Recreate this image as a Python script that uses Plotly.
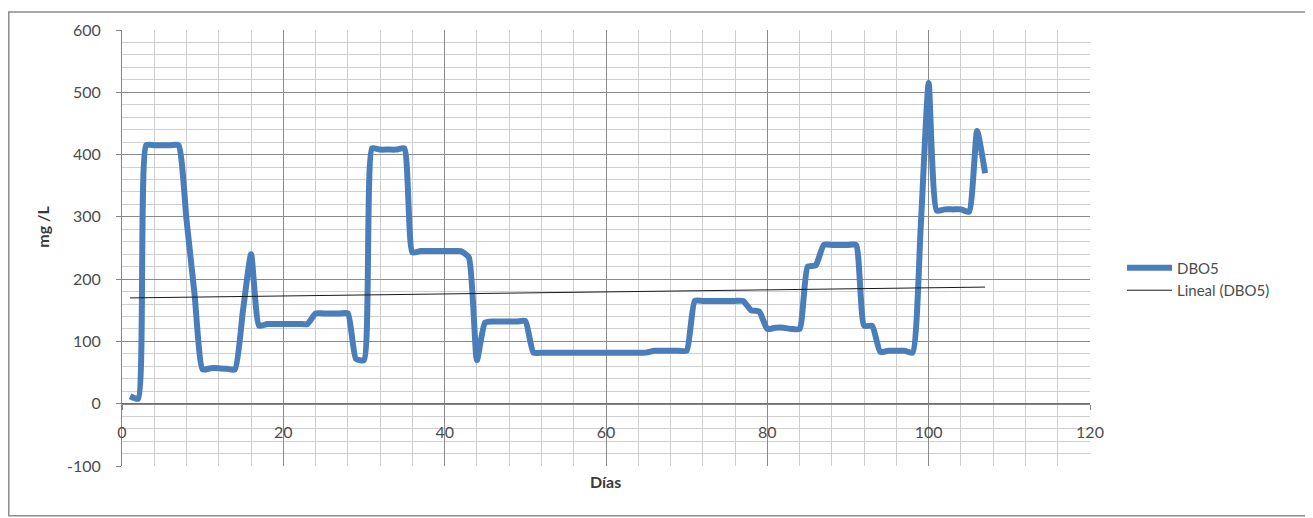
import numpy as np
import plotly.graph_objects as go

# === datos ===
dias = list(range(1, 108))
dbo5 = [
    12, 8, 415, 415, 415, 415, 415, 295, 175, 55,
    57, 57, 56, 55, 150, 240, 125, 128, 128, 128,
    128, 128, 128, 145, 145, 145, 145, 145, 72, 70,
    410, 408, 408, 408, 410, 243, 245, 245, 245, 245,
    245, 245, 235, 70, 130, 132, 132, 132, 132, 133,
    82, 82, 82, 82, 82, 82, 82, 82, 82, 82,
    82, 82, 82, 82, 82, 85, 85, 85, 85, 85,
    165, 165, 165, 165, 165, 165, 165, 150, 148, 120,
    122, 122, 120, 120, 220, 222, 255, 255, 255, 255,
    255, 125, 125, 83, 85, 85, 85, 82, 280, 515,
    310, 312, 312, 312, 308, 438, 370,
]
x_ticks = [0, 20, 40, 60, 80, 100, 120]
y_ticks = [-100, 0, 100, 200, 300, 400, 500, 600]

# === línea de tendencia (lineal) ===
m, b = np.polyfit(dias, dbo5, 1)
tendencia = [m * d + b for d in dias]

FONT = "Lato"
GRIS = "#4d4d4d"

# la página tiene 8px de margen: coordenadas de página -> papel
PX0, PX1 = 122, 1090   # x=0 .. x=120
PY0, PY1 = 466, 27     # y=-100 .. y=600


def px(xp):
    return (xp - PX0) / (PX1 - PX0)


def py(yp):
    return (PY0 - yp) / (PY0 - PY1)


fig = go.Figure()

fig.add_trace(go.Scatter(
    x=dias, y=dbo5, name="DBO5", mode="lines",
    line=dict(color="#4A7EBB", width=6, shape="spline", smoothing=0.5),
))
fig.add_trace(go.Scatter(
    x=[dias[0], dias[-1]], y=[tendencia[0], tendencia[-1]],
    name="Lineal (DBO5)", mode="lines",
    line=dict(color="#1a1a1a", width=1),
))

fig.update_layout(
    width=1305, height=510,
    margin=dict(l=PX0 - 8, r=1313 - PX1, t=PY1 - 8, b=518 - PY0),
    paper_bgcolor="white", plot_bgcolor="white",
    font=dict(family=FONT, size=16, color=GRIS),
    showlegend=True,
    legend=dict(x=px(1122), y=py(250), xanchor="left", yanchor="top",
                font=dict(family=FONT, size=15, color=GRIS),
                itemwidth=45,
                bgcolor="rgba(0,0,0,0)", tracegroupgap=0),
    xaxis=dict(
        range=[0, 120], tickvals=x_ticks, ticktext=[str(v) for v in x_ticks],
        showgrid=True, gridcolor="#8a8a8a", gridwidth=1,
        minor=dict(dtick=4, showgrid=True, gridcolor="#cfcfcf", gridwidth=1),
        anchor="free", position=100 / 700,
        showline=True, linecolor="#868686", linewidth=1,
        ticks="outside", ticklen=5, tickcolor="#868686",
        ticklabelstandoff=9,
        zeroline=False, fixedrange=True,
    ),
    yaxis=dict(
        range=[-100, 600], tickvals=y_ticks, ticktext=[str(v) for v in y_ticks],
        showgrid=True, gridcolor="#8a8a8a", gridwidth=1,
        minor=dict(dtick=20, showgrid=True, gridcolor="#cfcfcf", gridwidth=1),
        showline=True, linecolor="#868686", linewidth=1,
        ticks="outside", ticklen=5, tickcolor="#868686",
        ticklabelstandoff=12,
        zeroline=True, zerolinecolor="#6f6f6f", zerolinewidth=1,
        fixedrange=True,
    ),
    annotations=[
        dict(text="<b>mg /L</b>", xref="paper", yref="paper",
             x=px(43), y=py(225), textangle=-90,
             xanchor="center", yanchor="middle",
             showarrow=False, font=dict(family=FONT, size=16, color="#3a3a3a")),
        dict(text="<b>Días</b>", xref="paper", yref="paper",
             x=px(605), y=py(482), xanchor="center", yanchor="middle",
             showarrow=False, font=dict(family=FONT, size=16, color="#3a3a3a")),
    ],
    shapes=[
        dict(type="rect", xref="paper", yref="paper",
             x0=px(8.8), x1=px(1311), y0=py(516), y1=py(8.8),
             line=dict(color="#8c8c8c", width=1.5), layer="below"),
    ],
)

fig.write_html("out.html")
